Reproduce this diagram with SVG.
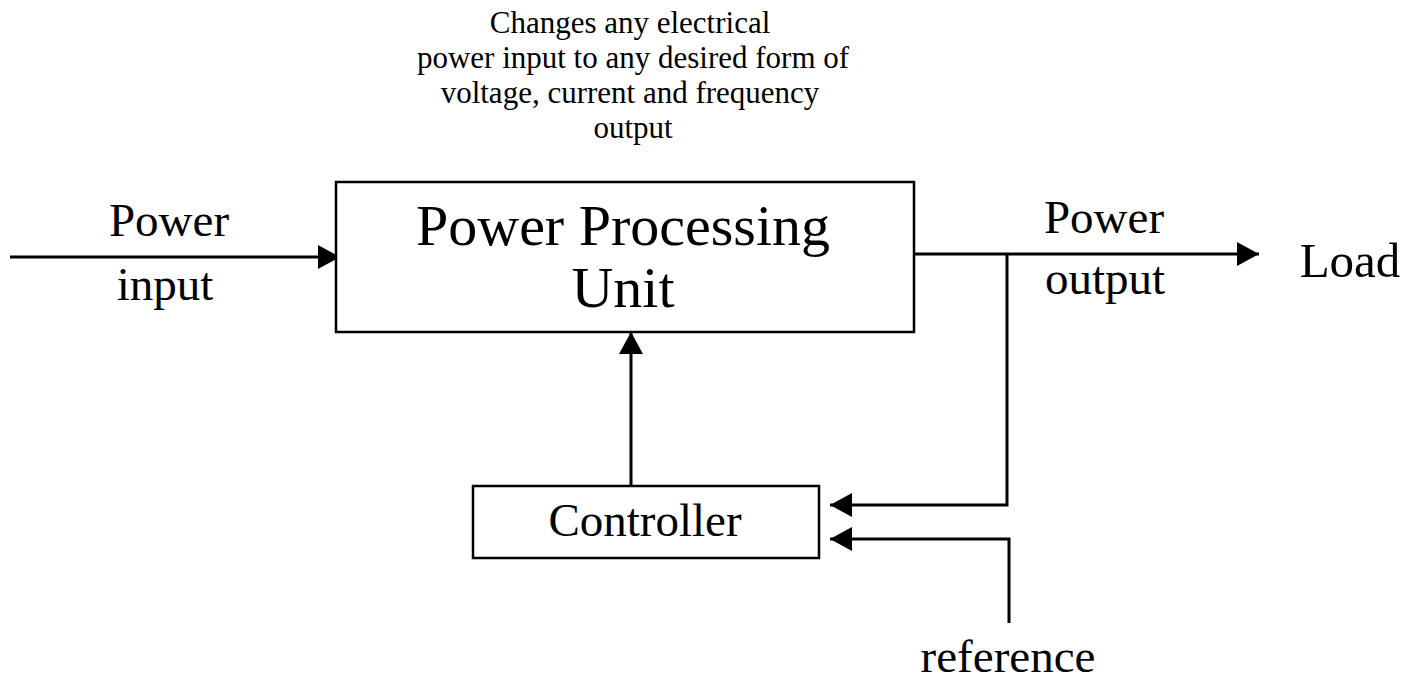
<svg xmlns="http://www.w3.org/2000/svg" width="1410" height="694" viewBox="0 0 1410 694">
<style>
text{font-family:"Liberation Serif","Times New Roman",serif;fill:#000;text-anchor:middle}
.box{fill:#fff;stroke:#000;stroke-width:2.5}
.ln{fill:none;stroke:#000;stroke-width:3}
.big{font-size:58px}
.mid{font-size:47px}
.sm{font-size:31px}
</style>
<defs>
<marker id="ah" markerWidth="22" markerHeight="24" refX="22" refY="12" orient="auto" markerUnits="userSpaceOnUse" viewBox="0 0 22 24">
<path d="M0,0 L22,12 L0,24 Z" fill="#000"/>
</marker>
</defs>
<rect width="1410" height="694" fill="#fff"/>
<g id="note">
<text class="sm" x="630" y="33">Changes any electrical</text>
<text class="sm" x="633" y="68">power input to any desired form of</text>
<text class="sm" x="630" y="103">voltage, current and frequency</text>
<text class="sm" x="633" y="138">output</text>
</g>
<g id="connectors">
<line class="ln" x1="10" y1="257" x2="340" y2="257" marker-end="url(#ah)"/>
<line class="ln" x1="914" y1="254" x2="1259" y2="254" marker-end="url(#ah)"/>
<polyline class="ln" points="1007,254 1007,505 830,505" marker-end="url(#ah)"/>
<polyline class="ln" points="1009,623 1009,539 830,539" marker-end="url(#ah)"/>
<line class="ln" x1="631" y1="486" x2="631" y2="332" marker-end="url(#ah)"/>
</g>
<g id="ppu">
<rect class="box" x="336" y="182" width="578" height="150"/>
<text class="big" x="623" y="245">Power Processing</text>
<text class="big" x="623" y="307">Unit</text>
</g>
<g id="controller">
<rect class="box" x="473" y="486" width="346" height="72"/>
<text class="mid" x="645" y="536">Controller</text>
</g>
<g id="labels">
<text class="mid" x="169" y="236">Power</text>
<text class="mid" x="165" y="300">input</text>
<text class="mid" x="1104" y="233">Power</text>
<text class="mid" x="1105" y="294">output</text>
<text class="mid" x="1350" y="277" style="font-size:49px">Load</text>
<text class="mid" x="1008" y="672">reference</text>
</g>
</svg>
